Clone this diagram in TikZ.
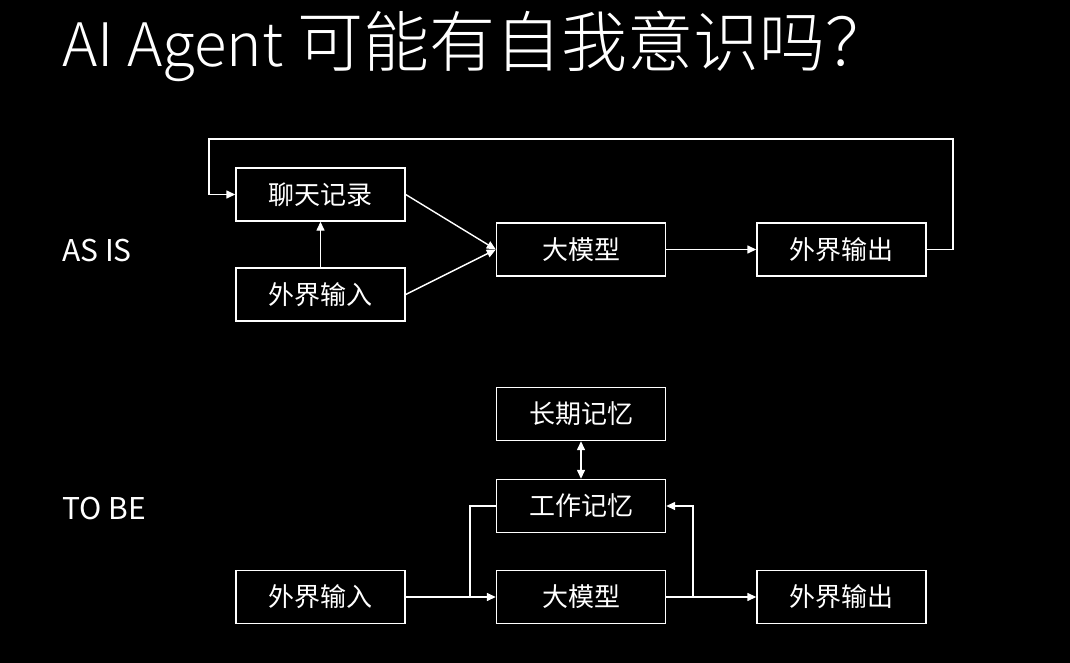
\documentclass[tikz,border=0pt]{standalone}
\usepackage{fontspec}
\setmainfont{Noto Sans CJK SC}
\newfontfamily\headfont{Noto Sans CJK SC Light}
\usetikzlibrary{arrows.meta}
\begin{document}
\begin{tikzpicture}[x=1pt,y=-1pt,
  box/.style={draw=white, line width=1.4pt, minimum width=169pt, minimum height=53pt,
    inner sep=0pt, text=white, font=\fontsize{26}{30}\selectfont},
  link/.style={draw=white, line width=1.4pt},
  arr/.style={link, -{Triangle[length=9pt,width=8pt]}},
  darr/.style={link, {Triangle[length=9pt,width=8pt]}-{Triangle[length=9pt,width=8pt]}},
  tag/.style={text=white, anchor=base west, inner sep=0pt, font=\fontsize{30}{34}\selectfont}]
\useasboundingbox (0,0) rectangle (1070,663);
\fill[black] (0,0) rectangle (1070,663);

% heading
\node[text=white, anchor=base west, inner sep=0pt, font=\headfont\fontsize{60}{66}\selectfont] (title) at (62,67)
  {AI Agent\hspace{14pt}{\fontsize{66}{70}\selectfont 可能有自我意识吗？}};

% section labels
\node[tag] (asis) at (62,261) {AS IS};
\node[tag] (tobe) at (62,519) {TO BE};

% current pipeline
\node[box] (chat) at (320.5,194.5) {聊天记录};
\node[box] (in1)  at (320.5,294.5) {外界输入};
\node[box] (llm1) at (581,249.5) {大模型};
\node[box] (out1) at (841.5,249.5) {外界输出};

\draw[arr] (in1.north) -- (chat.south);
\draw[arr] (chat.east) -- (llm1.west);
\draw[arr] (in1.east) -- (llm1.west);
\draw[arr] (llm1.east) -- (out1.west);
\coordinate (loopR) at (953,139);
\coordinate (loopL) at (209,139);
\draw[arr] (out1.east) -| (loopR) -- (loopL) |- (chat.west);

% target pipeline
\node[box] (ltm)  at (581,414) {长期记忆};
\node[box] (wm)   at (581,506) {工作记忆};
\node[box] (llm2) at (581,597) {大模型};
\node[box] (in2)  at (320.5,597) {外界输入};
\node[box] (out2) at (841.5,597) {外界输出};

\draw[darr] (ltm.south) -- (wm.north);
\draw[arr] (in2.east) -- (llm2.west);
\draw[arr] (llm2.east) -- (out2.west);
\coordinate (splitIn) at (470,597);
\coordinate (splitOut) at (693,597);
\draw[link] (splitIn) |- (wm.west);
\draw[arr] (splitOut) |- (wm.east);
\end{tikzpicture}
\end{document}
